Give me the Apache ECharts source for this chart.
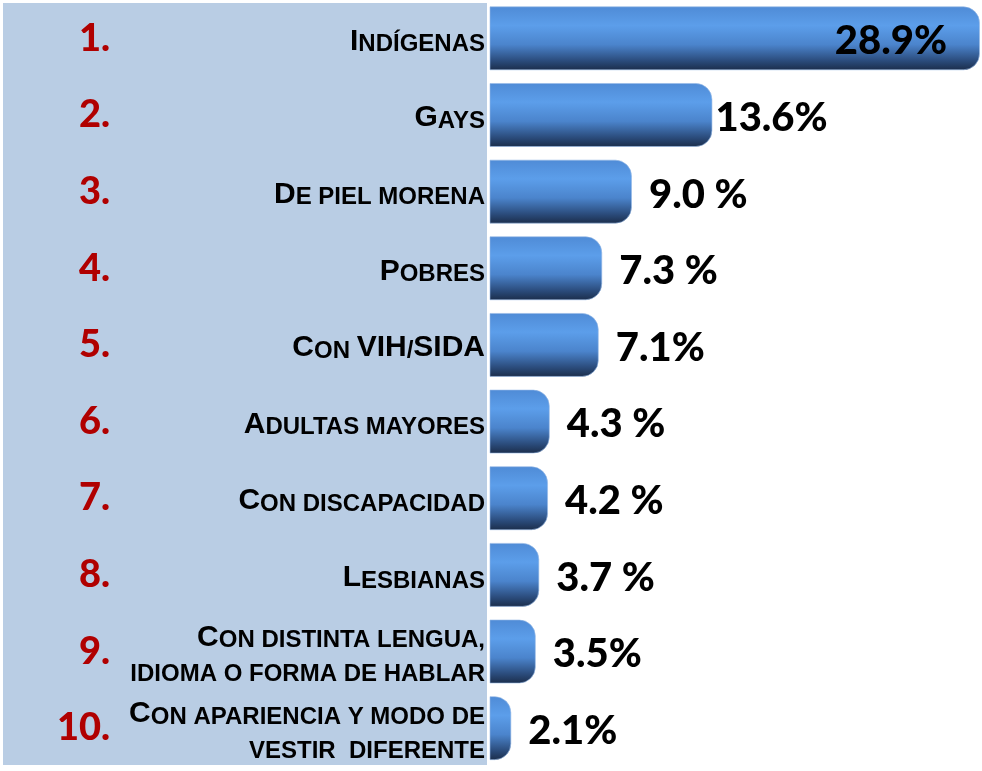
<!DOCTYPE html>
<html>

<head>
    <meta charset="utf-8">
    <title>ECharts</title>
    <script src="https://cdn.jsdelivr.net/npm/echarts@6/dist/echarts.min.js"></script>
    <style>
        body { margin: 0; background: #fff; }
    </style>
</head>

<body>
    <div id="main" style="width: 982px;height:771px;"></div>
    <script type="text/javascript">
        // data
        const ranks = ['1.', '2.', '3.', '4.', '5.', '6.', '7.', '8.', '9.', '10.']
        const categories = [
            'Indígenas',
            'Gays',
            'De piel morena',
            'Pobres',
            'Con VIH/SIDA',
            'Adultas mayores',
            'Con discapacidad',
            'Lesbianas',
            'Con distinta lengua,\nidioma o forma de hablar',
            'Con apariencia y modo de\nvestir  diferente',
        ]
        const values = [28.9, 13.6, 9.0, 7.3, 7.1, 4.3, 4.2, 3.7, 3.5, 2.1]
        const valueLabels = ['28.9%', '13.6%', '9.0 %', '7.3 %', '7.1%', '4.3 %', '4.2 %', '3.7 %', '3.5%', '2.1%']

        // small caps: real capitals big, lower case letters as small capitals
        const smallCaps = (text) => {
            return text.split('\n').map(line => {
                let out = ''
                let run = ''
                let kind = null
                for (const ch of line) {
                    const k = (ch !== ch.toLowerCase()) ? 'b' : 's'
                    if (k !== kind && run) {
                        out += '{' + kind + '|' + run + '}'
                        run = ''
                    }
                    kind = k
                    run += ch.toUpperCase()
                }
                if (run) out += '{' + kind + '|' + run + '}'
                return out
            }).join('\n')
        }

        const barColor = new echarts.graphic.LinearGradient(0, 0, 0, 1, [
            { offset: 0, color: '#4f8bd6' },
            { offset: 0.3, color: '#5c9eea' },
            { offset: 0.6, color: '#4b84cc' },
            { offset: 0.85, color: '#2b4c7c' },
            { offset: 1, color: '#1b2d4a' }
        ])

        const seriesData = values.map((v, i) => {
            let item = { value: v }
            if (i === 0) {
                item.label = { position: 'insideRight', distance: 33 }
            } else if (i === 1) {
                item.label = { distance: 3 }
            }
            return item
        })

        var myChart = echarts.init(document.getElementById('main'));
        var option = {
            backgroundColor: '#ffffff',
            animation: false,
            graphic: [{
                type: 'rect',
                z: -10,
                shape: { x: 3, y: 3, width: 484, height: 762 },
                style: { fill: '#b9cde4' }
            }],
            grid: {
                left: 490,
                right: 2,
                top: -3.5,
                height: 770
            },
            xAxis: {
                type: 'value',
                min: 0.88,
                max: 28.9,
                show: false
            },
            yAxis: [{
                type: 'category',
                inverse: true,
                data: categories,
                axisLine: { show: false },
                axisTick: { show: false },
                axisLabel: {
                    margin: 5,
                    align: 'right',
                    padding: [2, 0, 0, 0],
                    formatter: (val) => smallCaps(val),
                    rich: {
                        b: {
                            fontFamily: 'Liberation Sans',
                            fontWeight: 'bold',
                            fontSize: 30,
                            lineHeight: 34,
                            color: '#000',
                            verticalAlign: 'bottom'
                        },
                        s: {
                            fontFamily: 'Liberation Sans',
                            fontWeight: 'bold',
                            fontSize: 24,
                            lineHeight: 34,
                            color: '#000',
                            verticalAlign: 'bottom'
                        }
                    }
                }
            }, {
                type: 'category',
                inverse: true,
                position: 'left',
                offset: 380,
                data: ranks,
                axisLine: { show: false },
                axisTick: { show: false },
                axisLabel: {
                    margin: 0,
                    fontFamily: 'Lato',
                    fontWeight: 900,
                    fontSize: 38,
                    color: '#b00000'
                }
            }],
            series: [{
                type: 'bar',
                data: seriesData,
                barWidth: 64,
                itemStyle: {
                    color: barColor,
                    borderRadius: [0, 16, 16, 0],
                    borderColor: 'rgba(150,185,230,0.6)',
                    borderWidth: 1
                },
                label: {
                    show: true,
                    position: 'right',
                    distance: 17,
                    formatter: (p) => valueLabels[p.dataIndex],
                    fontFamily: 'Lato',
                    fontWeight: 900,
                    fontSize: 40,
                    color: '#000',
                    offset: [0, 3]
                }
            }]
        };

        myChart.setOption(option);
    </script>
</body>

</html>
